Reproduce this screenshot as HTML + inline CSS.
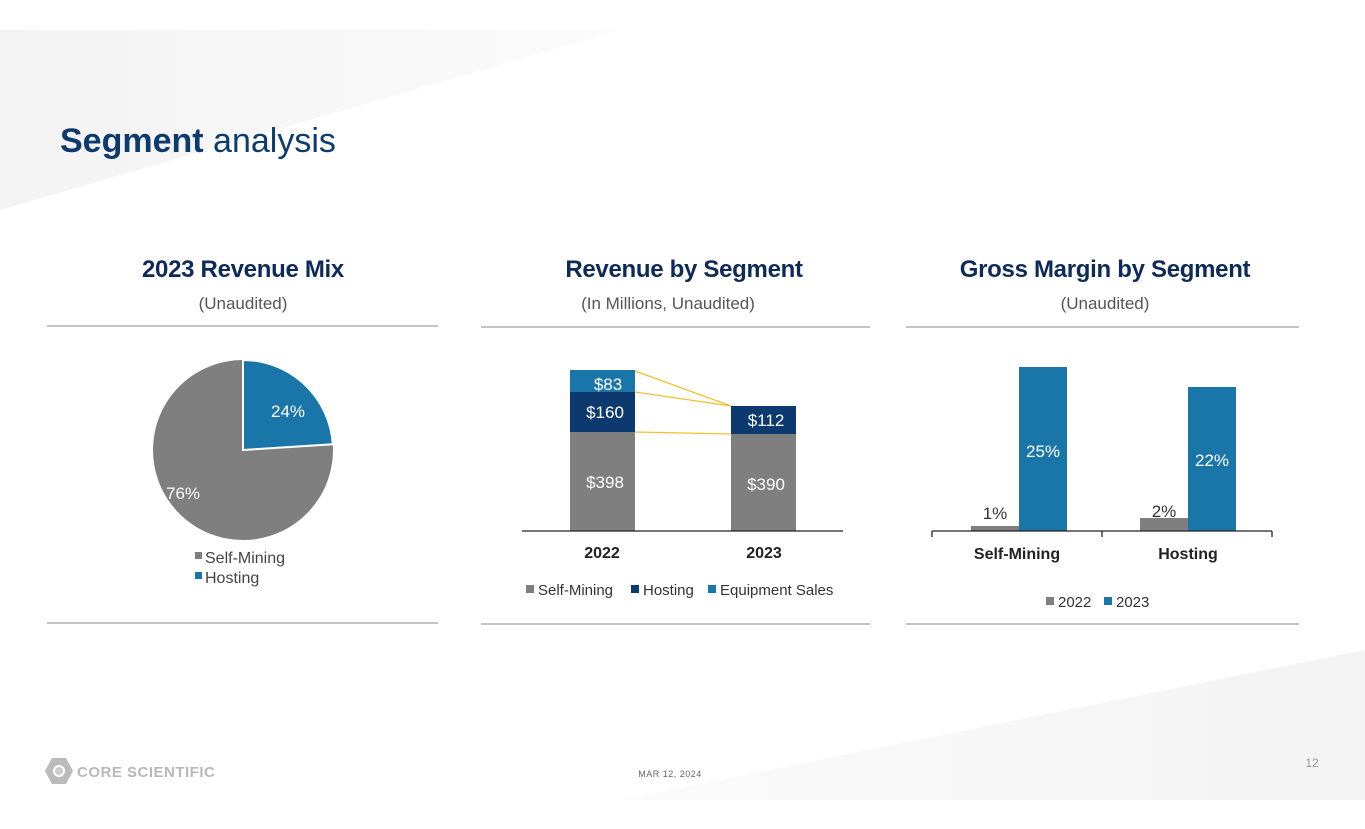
<!DOCTYPE html>
<html><head><style>
body{margin:0;width:1365px;height:829px;overflow:hidden;background:#fff;font-family:"Liberation Sans",sans-serif;position:relative}
.t{position:absolute;text-align:center;font-weight:bold;color:#0d2a5a;font-size:24px;width:400px;letter-spacing:-0.3px}
.s{position:absolute;text-align:center;color:#555;font-size:17px;width:400px}
</style></head><body>
<svg width="1365" height="829" style="position:absolute;left:0;top:0">
<defs><linearGradient id="g1" x1="0" y1="0" x2="1" y2="0"><stop offset="0" stop-color="#f3f3f3"/><stop offset="1" stop-color="#fbfbfb"/></linearGradient>
<linearGradient id="g2" x1="0" y1="0" x2="1" y2="0"><stop offset="0" stop-color="#fbfbfb"/><stop offset="1" stop-color="#f3f3f3"/></linearGradient></defs>
<polygon points="0,30 620,30 0,210" fill="url(#g1)"/>
<polygon points="1365,650 1365,800 620,800" fill="url(#g2)"/>
<g fill="none" stroke="#888" stroke-width="1">
<line x1="47" y1="326" x2="438" y2="326"/><line x1="481" y1="327" x2="870" y2="327"/><line x1="906" y1="327" x2="1299" y2="327"/>
<line x1="47" y1="623" x2="438" y2="623"/><line x1="481" y1="624" x2="870" y2="624"/><line x1="906" y1="624" x2="1299" y2="624"/>
</g>
<circle cx="243" cy="450" r="90" fill="#7f7f7f"/>
<path d="M243,450 L243,360 A90,90 0 0 1 332.8,444.3 Z" fill="#1a76a8" stroke="#fff" stroke-width="2"/>
<text x="288" y="417" fill="#fff" font-size="17" text-anchor="middle">24%</text>
<text x="183" y="499" fill="#fff" font-size="17" text-anchor="middle">76%</text>
<rect x="195" y="552" width="7" height="7" fill="#7f7f7f"/><text x="205" y="563" font-size="16" fill="#444">Self-Mining</text>
<rect x="195" y="572" width="7" height="7" fill="#1a76a8"/><text x="205" y="583" font-size="16" fill="#444">Hosting</text>
<rect x="570" y="432" width="65" height="99" fill="#7f7f7f"/>
<rect x="570" y="392" width="65" height="40" fill="#0c3a6e"/>
<rect x="570" y="370" width="65" height="22" fill="#1a76a8"/>
<rect x="731" y="434" width="65" height="97" fill="#7f7f7f"/>
<rect x="731" y="406" width="65" height="28" fill="#0c3a6e"/>
<g stroke="#f2c12e" stroke-width="1.3"><line x1="635" y1="371" x2="731" y2="406"/><line x1="635" y1="392" x2="731" y2="406"/><line x1="635" y1="432" x2="731" y2="434"/></g>
<line x1="522" y1="531" x2="843" y2="531" stroke="#222" stroke-width="1.3"/>
<g fill="#fff" font-size="17" text-anchor="middle">
<text x="608" y="390">$83</text><text x="605" y="418">$160</text><text x="605" y="488">$398</text>
<text x="766" y="426">$112</text><text x="766" y="490">$390</text></g>
<g fill="#222" font-size="16" font-weight="bold" text-anchor="middle"><text x="602" y="558">2022</text><text x="764" y="558">2023</text></g>
<rect x="526" y="585" width="8" height="8" fill="#7f7f7f"/><text x="538" y="595" font-size="15" fill="#333">Self-Mining</text>
<rect x="631" y="585" width="8" height="8" fill="#0c3a6e"/><text x="643" y="595" font-size="15" fill="#333">Hosting</text>
<rect x="708" y="585" width="8" height="8" fill="#1a76a8"/><text x="720" y="595" font-size="15" fill="#333">Equipment Sales</text>
<rect x="971" y="526" width="48" height="5" fill="#7f7f7f"/>
<rect x="1019" y="367" width="48" height="164" fill="#1a76a8"/>
<rect x="1140" y="518" width="48" height="13" fill="#7f7f7f"/>
<rect x="1188" y="387" width="48" height="144" fill="#1a76a8"/>
<g stroke="#222" stroke-width="1.3"><line x1="932" y1="531" x2="1272" y2="531"/><line x1="932" y1="531" x2="932" y2="537"/><line x1="1102" y1="531" x2="1102" y2="537"/><line x1="1272" y1="531" x2="1272" y2="537"/></g>
<g font-size="17" text-anchor="middle"><text x="995" y="519" fill="#333">1%</text><text x="1164" y="517" fill="#333">2%</text>
<text x="1043" y="457" fill="#fff">25%</text><text x="1212" y="466" fill="#fff">22%</text></g>
<g fill="#222" font-size="16" font-weight="bold" text-anchor="middle"><text x="1017" y="559">Self-Mining</text><text x="1188" y="559">Hosting</text></g>
<rect x="1046" y="597" width="8" height="8" fill="#7f7f7f"/><text x="1058" y="607" font-size="15" fill="#333">2022</text>
<rect x="1104" y="597" width="8" height="8" fill="#1a76a8"/><text x="1116" y="607" font-size="15" fill="#333">2023</text>
<polygon points="52,758 66,758 73,771 66,784 52,784 45,771" fill="#bbb"/>
<circle cx="59" cy="771" r="6" fill="#fff"/><circle cx="59" cy="771" r="4" fill="#ccc"/>
<text x="77" y="777" font-size="15" font-weight="bold" fill="#b8b8b8" letter-spacing="0.5">CORE SCIENTIFIC</text>
<text x="670" y="777" font-size="9" fill="#666" text-anchor="middle" letter-spacing="0.5">MAR 12, 2024</text>
<text x="1312" y="767" font-size="12" fill="#999" text-anchor="middle">12</text>
</svg>
<div style="position:absolute;left:60px;top:122px;font-size:34px;color:#0d3b6e"><b>Segment</b> analysis</div>
<div class="t" style="left:43px;top:256px">2023 Revenue Mix</div>
<div class="s" style="left:43px;top:294px">(Unaudited)</div>
<div class="t" style="left:484px;top:256px">Revenue by Segment</div>
<div class="s" style="left:468px;top:294px">(In Millions, Unaudited)</div>
<div class="t" style="left:905px;top:256px">Gross Margin by Segment</div>
<div class="s" style="left:905px;top:294px">(Unaudited)</div>
</body></html>
